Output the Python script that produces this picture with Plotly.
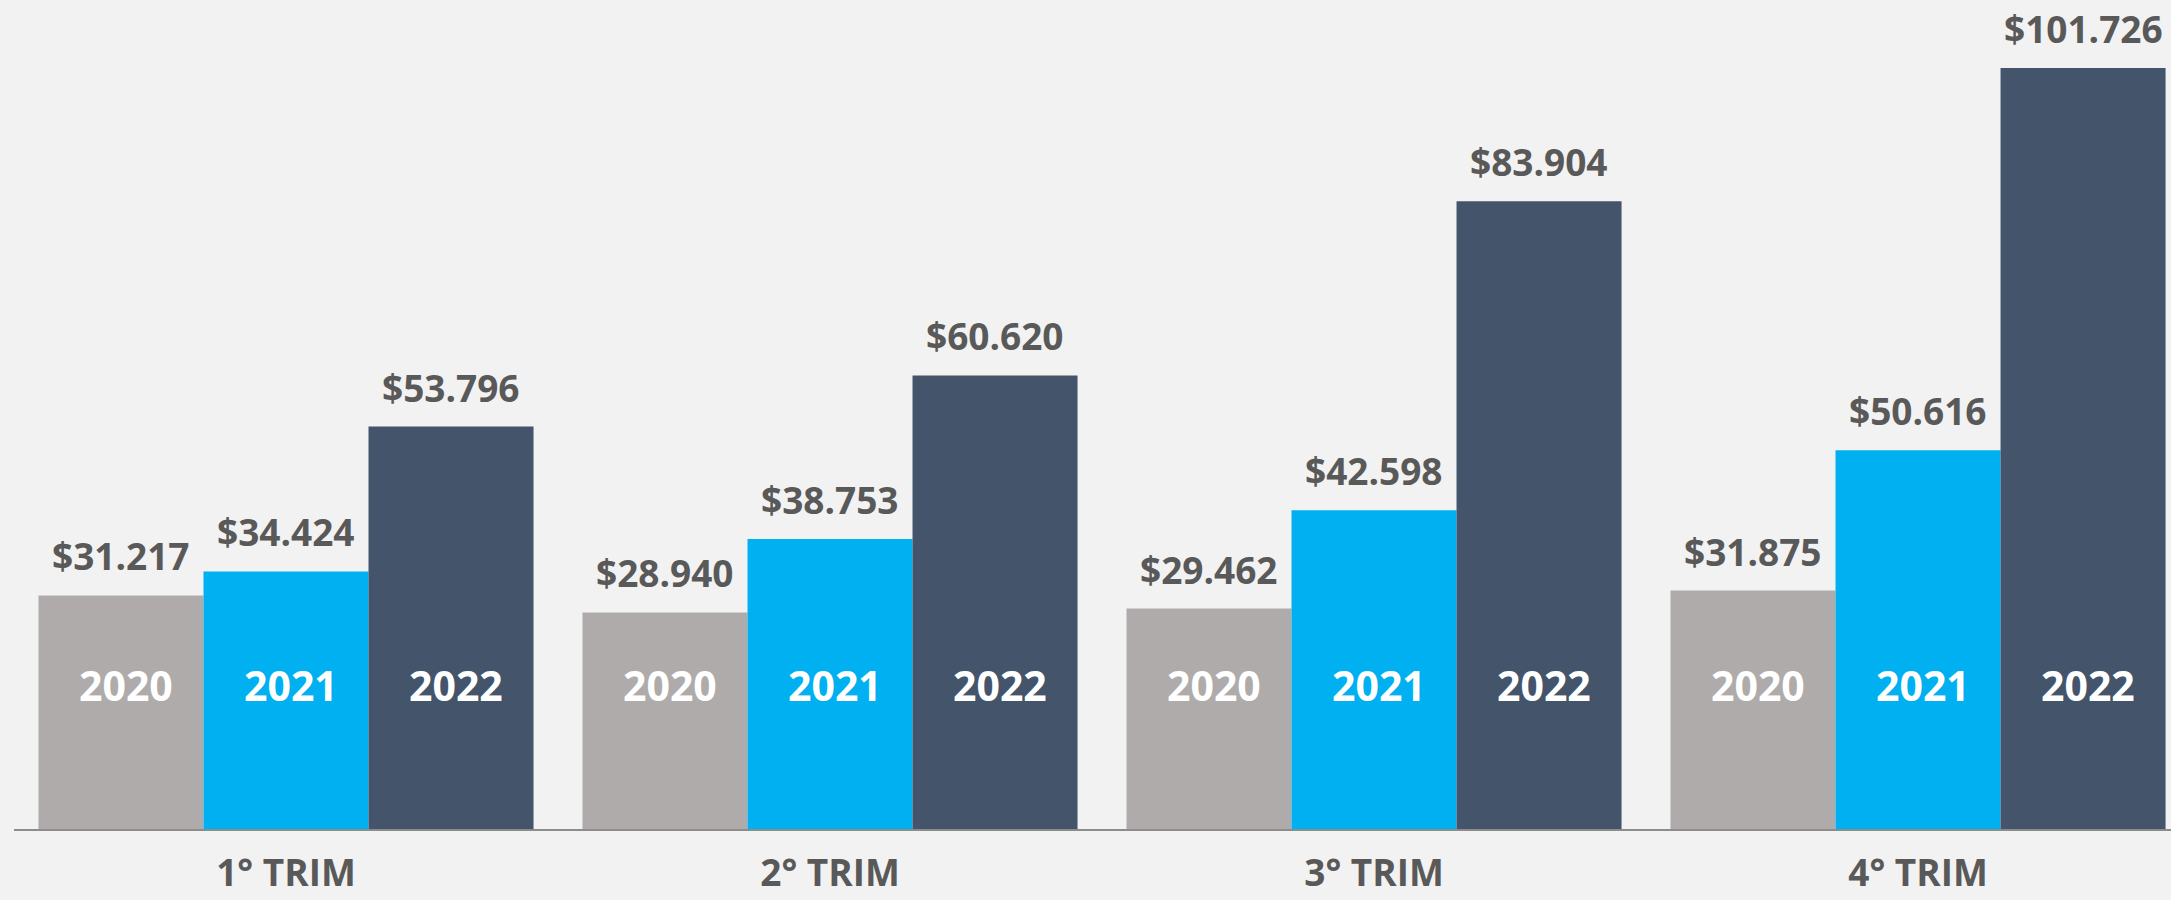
import plotly.graph_objects as go

quarters = ["1° TRIM", "2° TRIM", "3° TRIM", "4° TRIM"]
years = ["2020", "2021", "2022"]
v2020 = [31217, 28940, 29462, 31875]
v2021 = [34424, 38753, 42598, 50616]
v2022 = [53796, 60620, 83904, 101726]
series = [v2020, v2021, v2022]

colors = ["#AFABAB", "#00B0F0", "#44546A"]
BG = "#F2F2F2"
TXT = "#595959"
FONT = "Open Sans"
BARGAP = 0.09
YMAX = 110800
YEAR_LABEL_Y = 19250


def fmt(v):
    return "$" + f"{v:,}".replace(",", ".")


fig = go.Figure()
for name, vals, col in zip(years, series, colors):
    fig.add_trace(go.Bar(
        x=quarters, y=vals, name=name,
        marker=dict(color=col, line=dict(width=0)),
        hoverinfo="skip",
    ))

bw = (1 - BARGAP) / 3
annotations = []
for j, (name, vals) in enumerate(zip(years, series)):
    off = (j - 1) * bw
    for i, v in enumerate(vals):
        annotations.append(dict(
            x=i + off, y=v, xref="x", yref="y", text=fmt(v),
            showarrow=False, yanchor="bottom", xanchor="center", yshift=12,
            font=dict(family=FONT, size=37, color=TXT, weight="bold"),
        ))
        annotations.append(dict(
            x=i + off, y=YEAR_LABEL_Y, xref="x", yref="y", text=name,
            showarrow=False, yanchor="middle", xanchor="center", xshift=5,
            font=dict(family=FONT, size=41, color="white", weight="bold"),
        ))

fig.update_layout(
    width=2171, height=900,
    margin=dict(l=14, r=0, t=0, b=71, pad=0, autoexpand=False),
    paper_bgcolor=BG, plot_bgcolor=BG,
    barmode="group", bargap=BARGAP, bargroupgap=0,
    showlegend=False,
    annotations=annotations,
    font=dict(family=FONT),
)
fig.update_xaxes(
    range=[-0.5, 3.465], showgrid=False, zeroline=False, automargin=False,
    showline=True, linecolor="#8C8C8C", linewidth=1.5,
    ticks="", ticklabelstandoff=11,
    tickfont=dict(family=FONT, size=37, color=TXT, weight="bold"),
)
fig.update_yaxes(
    range=[0, YMAX], visible=False, showgrid=False, zeroline=False,
    automargin=False,
)

fig.write_html(
    "out.html",
    config={"displayModeBar": False},
    post_script="document.body.style.margin='0';document.body.style.overflow='hidden';",
)
